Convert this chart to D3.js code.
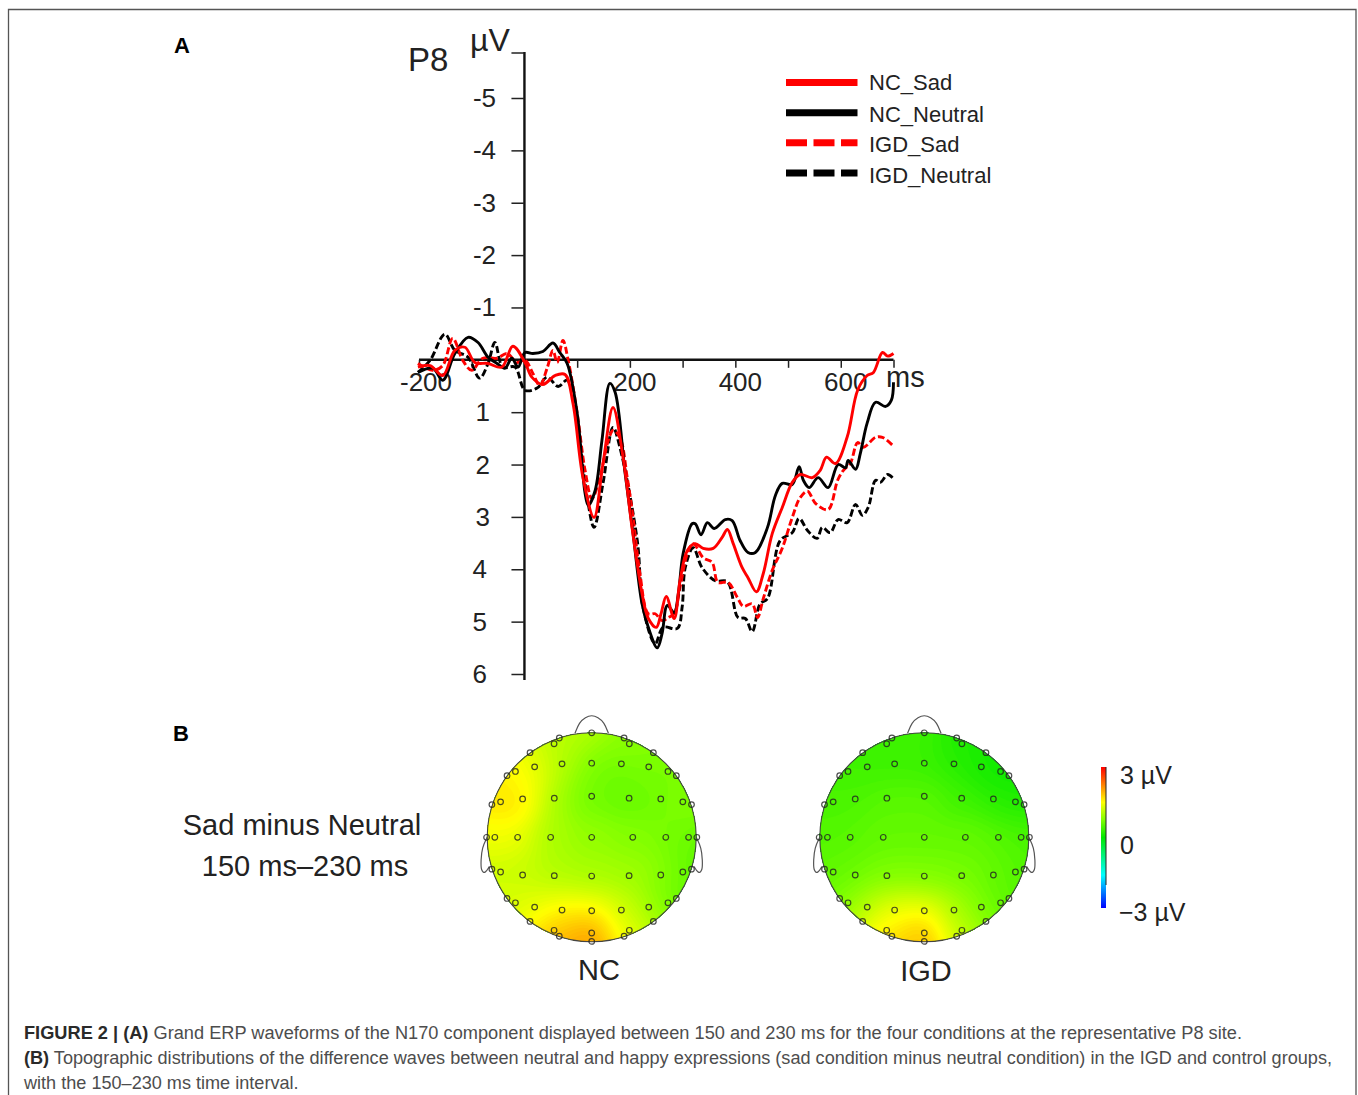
<!DOCTYPE html>
<html>
<head>
<meta charset="utf-8">
<script src="https://cdn.jsdelivr.net/npm/d3@7"></script>
<style>
  html, body { margin: 0; padding: 0; background: #fff; }
  svg { display: block; }
  text { font-family: "Liberation Sans", Arial, sans-serif; }
</style>
</head>
<body>
<script>
const svgW = 1358;
const svgH = 1095;

// waveforms, ms and uV (negative up)
const ncSadT = [-202,-179,-155,-132,-113,-94,-69,-43,-22,1,14,35,58,77,92,111,132,149,168,187,204,223,235,250,259,269,284,295,309,324,339,358,375,385,396,413,424,440,453,470,489,508,523,546,561,573,590,612,632,650,662,679,689,700];
const ncSadV = [0.14,0.11,0.30,-0.18,-0.24,0.05,0.07,0.14,-0.26,0.05,0.33,0.47,0.30,0.28,0.83,2.25,3.01,1.98,0.91,1.86,3.20,4.46,4.94,5.11,4.85,4.52,4.94,4.22,3.64,3.51,3.60,3.60,3.39,3.24,3.51,3.97,4.16,4.43,4.08,3.32,2.82,2.34,2.19,2.25,2.11,1.86,1.98,1.48,0.58,0.30,0.24,-0.14,-0.07,-0.12];
const ncNeutralT = [-202,-174,-155,-132,-107,-88,-69,-52,-37,-24,-12,1,16,35,54,67,81,100,115,121,134,147,162,172,191,206,223,235,252,261,271,284,292,301,318,324,335,347,360,381,394,409,424,438,461,476,489,508,521,529,540,557,576,595,609,614,628,637,650,666,685,696,700];
const ncNeutralV = [0.24,0.16,0.39,-0.12,-0.43,-0.33,-0.05,0.07,0.16,-0.03,0.14,-0.14,-0.12,-0.16,-0.32,-0.14,0.07,1.02,2.55,2.78,2.50,1.54,0.45,0.62,2.17,3.32,4.66,5.11,5.50,5.23,4.69,4.83,4.46,3.70,3.13,3.13,3.34,3.11,3.22,3.05,3.07,3.45,3.68,3.68,3.20,2.59,2.36,2.38,2.04,2.30,2.44,2.25,2.44,2.00,2.06,1.92,2.09,1.79,1.21,0.81,0.89,0.77,0.43];
const igdSadT = [-202,-174,-155,-136,-117,-100,-79,-52,-33,-14,1,16,29,43,54,62,73,83,100,115,128,143,159,168,181,195,206,219,235,248,261,273,284,295,309,320,339,356,367,386,404,415,432,442,453,470,489,508,523,537,552,576,594,605,618,632,643,666,679,700];
const igdSadV = [0.07,0.20,0.11,-0.41,0.01,0.20,-0.03,-0.03,-0.12,0.05,0.01,0.26,0.49,0.16,-0.18,0.05,-0.37,0.01,1.02,2.11,2.65,2.25,1.54,1.35,1.48,2.25,3.01,4.08,4.85,4.85,4.98,4.92,4.85,4.35,3.70,3.51,3.78,3.87,4.25,4.25,4.54,4.71,4.66,4.92,4.56,4.02,3.60,3.01,2.63,2.51,2.74,2.86,2.30,2.11,1.98,1.58,1.67,1.48,1.48,1.65];
const igdNeutralT = [-202,-179,-151,-132,-107,-85,-69,-56,-41,-18,1,24,43,64,81,100,119,132,149,168,181,214,225,248,263,290,299,305,320,337,362,385,405,419,432,447,461,485,508,521,537,555,565,580,595,612,628,641,652,666,675,689,700];
const igdNeutralV = [0.24,0.01,-0.49,-0.18,-0.05,0.35,0.07,-0.33,0.14,0.14,0.58,0.54,0.33,0.51,0.39,1.21,2.63,3.20,2.36,1.29,1.67,3.45,4.73,5.42,5.11,5.13,4.73,3.97,3.59,3.97,4.22,4.24,4.92,4.94,5.19,4.66,4.56,3.45,3.30,3.03,3.26,3.41,3.20,3.30,3.05,3.11,2.76,2.97,2.82,2.30,2.34,2.19,2.27];

const seriesNames = ['NC_Sad', 'NC_Neutral', 'IGD_Sad', 'IGD_Neutral'];
const xTicks = [-200, -100, 0, 100, 200, 300, 400, 500, 600, 700];
const xLabels = [-200, 200, 400, 600];
const yTicks = [-5, -4, -3, -2, -1, 1, 2, 3, 4, 5, 6];

// electrodes in head units (1 = rim), same order for both maps
const elecX = [0,-.31,.31,-.36,.36,-.59,.59,-.81,.81,-.73,.73,-.546,.546,-.284,.284,0,-.955,.955,-.872,.872,-.661,.661,-.358,.358,0,-1.006,1.006,-.927,.927,-.709,.709,-.393,.393,0,-.955,.955,-.872,.872,-.661,.661,-.358,.358,0,-.81,.81,-.73,.73,-.546,.546,-.284,.284,0,-.59,.59,-.36,.36,-.31,.31,0,0];
const elecY = [-1,-.95,-.95,-.895,-.895,-.81,-.81,-.59,-.59,-.63,-.63,-.674,-.674,-.703,-.703,-.709,-.313,-.313,-.339,-.339,-.367,-.367,-.374,-.374,-.393,0,0,0,0,0,0,0,0,0,.305,.305,.332,.332,.361,.361,.367,.367,.371,.585,.585,.627,.627,.668,.668,.696,.696,.703,.805,.805,.89,.89,.947,.947,.916,.996];
const ncValues = [1.1,1.1,.85,1.1,.85,1.35,.8,1.55,.75,1.6,.7,1.4,.7,1.0,.62,.72,1.6,.8,1.8,.78,1.6,.65,.95,.62,.68,1.3,.55,1.6,.7,1.35,.75,1.0,.8,.88,1.2,.4,1.25,.8,1.15,.9,1.05,.95,1.0,1.25,.45,1.3,.75,1.3,1.05,1.4,1.2,1.4,1.6,1.0,1.9,1.3,2.05,1.55,2.2,2.15];
const igdValues = [.4,.35,.2,.35,.2,.35,.1,.4,.05,.4,.12,.4,.2,.4,.3,.35,.45,.15,.45,.25,.5,.35,.55,.4,.55,.5,.4,.5,.5,.55,.55,.6,.6,.6,.55,.45,.6,.55,.65,.65,.75,.7,.75,.65,.45,.8,.6,1.1,.8,1.25,1.0,1.3,1.35,.75,1.7,1.05,1.8,1.35,2.0,1.95];

const colorStops = [-3, -1.6, 0, 0.75, 1.5, 3];
const colorVals = ['#0000ff', '#00ffff', '#00e800', '#80ff00', '#ffff00', '#ff0000'];

const captionLines = [
  [['FIGURE 2 | (A)', true], [' Grand ERP waveforms of the N170 component displayed between 150 and 230 ms for the four conditions at the representative P8 site.', false]],
  [['(B)', true], [' Topographic distributions of the difference waves between neutral and happy expressions (sad condition minus neutral condition) in the IGD and control groups,', false]],
  [['with the 150–230 ms time interval.', false]]
];
const captionSizes = [18.22, 18.11, 18.1];

const svg = d3.select('body')
              .append('svg')
              .attr('width', svgW)
              .attr('height', svgH);

// frame, open at the bottom
svg.append('path')
    .attr('d', `M8.5,${svgH} V9.5 H1356 V${svgH}`)
    .attr('fill', 'none')
    .attr('stroke', '#555')
    .attr('stroke-width', 1.3);

svg.append('text').attr('x', 174).attr('y', 53).attr('font-size', 22).attr('font-weight', 'bold').text('A');
svg.append('text').attr('x', 173).attr('y', 741).attr('font-size', 22).attr('font-weight', 'bold').text('B');

// ---- ERP plot ----
const xScale = d3.scaleLinear().domain([-200, 700]).range([419, 893.5]);
const yScale = d3.scaleLinear().domain([-5, 6]).range([98, 674]);

const xAxis = d3.axisBottom(xScale).tickValues(xTicks).tickSize(8).tickFormat('');
const gx = svg.append('g').attr('transform', `translate(0, ${yScale(0)})`).call(xAxis);
gx.select('.domain').attr('d', `M419,0 H893.5`).attr('stroke-width', 2.4).attr('stroke', '#111');
gx.selectAll('.tick line').attr('stroke', '#222').attr('stroke-width', 1.5);

const yAxis = d3.axisLeft(yScale).tickValues(yTicks).tickSize(13).tickFormat('');
const gy = svg.append('g').attr('transform', `translate(${xScale(0)}, 0)`).call(yAxis);
gy.select('.domain').attr('d', 'M0,52 V680').attr('stroke-width', 2.4).attr('stroke', '#111');
gy.selectAll('.tick line').attr('stroke', '#222').attr('stroke-width', 1.5);
// top tick of the y axis
gy.append('line').attr('x1', -13).attr('x2', 0).attr('y1', 53).attr('y2', 53).attr('stroke', '#222').attr('stroke-width', 1.5);

svg.append('g').selectAll('text')
    .data(yTicks)
    .enter()
    .append('text')
    .attr('x', d => d < 0 ? 496 : (d > 3 ? 487 : 490))
    .attr('y', d => yScale(d) + 9)
    .attr('text-anchor', 'end')
    .attr('font-size', 26)
    .attr('fill', '#222')
    .text(d => d);

svg.append('g').selectAll('text')
    .data(xLabels)
    .enter()
    .append('text')
    .attr('x', d => xScale(d) + (d < 0 ? 7 : 5))
    .attr('y', 391)
    .attr('text-anchor', 'middle')
    .attr('font-size', 26)
    .attr('fill', '#222')
    .text(d => d);

svg.append('text').attr('x', 886).attr('y', 387).attr('font-size', 29).attr('fill', '#222').text('ms');
svg.append('text').attr('x', 470).attr('y', 51).attr('font-size', 32).attr('fill', '#222').text('µV');
svg.append('text').attr('x', 408).attr('y', 71).attr('font-size', 33).attr('fill', '#222').text('P8');

const line = d3.line()
               .x(d => xScale(d[0]))
               .y(d => yScale(d[1]))
               .curve(d3.curveCatmullRom.alpha(0.5));

const traces = [
  { t: igdNeutralT, v: igdNeutralV, color: '#000', dash: '7 3' },
  { t: igdSadT, v: igdSadV, color: '#f00', dash: '7 3' },
  { t: ncNeutralT, v: ncNeutralV, color: '#000', dash: null },
  { t: ncSadT, v: ncSadV, color: '#f00', dash: null }
];

svg.append('g').selectAll('path')
    .data(traces)
    .enter()
    .append('path')
    .attr('d', d => line(d3.zip(d.t, d.v)))
    .attr('fill', 'none')
    .attr('stroke', d => d.color)
    .attr('stroke-width', 2.9)
    .attr('stroke-dasharray', d => d.dash);

// legend
const legendY = d3.scalePoint().domain(seriesNames).range([82.5, 173]);
const legendTextDy = [7.5, 9.5, 9, 10];
const legendG = svg.append('g').selectAll('g')
    .data(seriesNames)
    .enter()
    .append('g')
    .attr('transform', d => `translate(0, ${legendY(d)})`);

legendG.append('line')
    .attr('x1', 786)
    .attr('x2', 857.5)
    .attr('stroke', d => d.endsWith('Sad') ? '#f00' : '#000')
    .attr('stroke-width', 7)
    .attr('stroke-dasharray', d => d.startsWith('IGD') ? '21 6.5' : null);

legendG.append('text')
    .attr('x', 869)
    .attr('y', (d, i) => legendTextDy[i])
    .attr('font-size', 22)
    .attr('fill', '#222')
    .text(d => d);

// ---- topographic maps ----
const colorScale = d3.scaleLinear().domain(colorStops).range(colorVals);
const gridN = 130;
const sigma = 0.17;

function drawHead(cx, cy, radius, values, name) {
  // kernel smoothing of the electrode values on a grid over the head
  const grid = new Float64Array(gridN * gridN);
  for (let j = 0; j < gridN; j++) {
    for (let i = 0; i < gridN; i++) {
      const px = (i + 0.5) / gridN * 2.2 - 1.1;
      const py = (j + 0.5) / gridN * 2.2 - 1.1;
      let sw = 0;
      let sv = 0;
      values.forEach((v, k) => {
        const dx = px - elecX[k];
        const dy = py - elecY[k];
        const w = Math.exp(-(dx * dx + dy * dy) / (2 * sigma * sigma));
        sw += w;
        sv += w * v;
      });
      grid[j * gridN + i] = sv / sw;
    }
  }

  const g = svg.append('g').attr('transform', `translate(${cx}, ${cy})`);
  const clipId = 'clip-' + name;
  g.append('clipPath').attr('id', clipId).append('circle').attr('r', radius);

  const thresholds = d3.range(-1, 3.01, 0.04);
  const contours = d3.contours().size([gridN, gridN]).thresholds(thresholds)(grid);
  const geo = d3.geoPath(d3.geoTransform({
    point: function(x, y) {
      this.stream.point((x / gridN * 2.2 - 1.1) * radius, (y / gridN * 2.2 - 1.1) * radius);
    }
  }));

  const fills = g.append('g').attr('clip-path', `url(#${clipId})`);
  fills.append('circle').attr('r', radius).attr('fill', colorScale(d3.min(grid)));
  fills.selectAll('path')
    .data(contours)
    .enter()
    .append('path')
    .attr('d', geo)
    .attr('fill', d => colorScale(d.value));

  const headLine = d3.line().curve(d3.curveBasis);
  const outline = [
    [[-.16, -.995], [-.12, -1.1], [-.06, -1.15], [0, -1.17], [.06, -1.15], [.12, -1.1], [.16, -.995]],
    [[-1.0, .0], [-1.05, .1], [-1.06, .22], [-1.06, .32], [-1.02, .35], [-.98, .28]],
    [[1.0, .0], [1.05, .1], [1.06, .22], [1.06, .32], [1.02, .35], [.98, .28]]
  ];
  g.selectAll('.outline')
    .data(outline)
    .enter()
    .append('path')
    .attr('class', 'outline')
    .attr('d', d => headLine(d.map(p => [p[0] * radius, p[1] * radius])))
    .attr('fill', 'none')
    .attr('stroke', '#555')
    .attr('stroke-width', 1.2);

  g.append('circle').attr('r', radius).attr('fill', 'none').attr('stroke', '#444').attr('stroke-width', 1.1);

  g.selectAll('.elec')
    .data(values)
    .enter()
    .append('circle')
    .attr('class', 'elec')
    .attr('cx', (d, k) => elecX[k] * radius)
    .attr('cy', (d, k) => elecY[k] * radius)
    .attr('r', 2.8)
    .attr('fill', 'none')
    .attr('stroke', '#222')
    .attr('stroke-opacity', 0.8)
    .attr('stroke-width', 1.2);
}

drawHead(591.7, 837.3, 104.5, ncValues, 'nc');
drawHead(924.3, 837.3, 104.5, igdValues, 'igd');

svg.append('text').attr('x', 599).attr('y', 980).attr('text-anchor', 'middle').attr('font-size', 29).attr('fill', '#222').text('NC');
svg.append('text').attr('x', 926).attr('y', 981).attr('text-anchor', 'middle').attr('font-size', 29).attr('fill', '#222').text('IGD');
svg.append('text').attr('x', 302).attr('y', 835).attr('text-anchor', 'middle').attr('font-size', 29).attr('fill', '#222').text('Sad minus Neutral');
svg.append('text').attr('x', 305).attr('y', 876).attr('text-anchor', 'middle').attr('font-size', 29).attr('fill', '#222').text('150 ms–230 ms');

// colour bar
const defs = svg.append('defs');
const grad = defs.append('linearGradient').attr('id', 'bar').attr('x1', 0).attr('x2', 0).attr('y1', 1).attr('y2', 0);
const barScale = d3.scaleLinear().domain([-3, 3]).range([0, 1]);
grad.selectAll('stop')
    .data(colorStops)
    .enter()
    .append('stop')
    .attr('offset', d => barScale(d))
    .attr('stop-color', d => colorScale(d));
svg.append('rect').attr('x', 1101).attr('y', 767).attr('width', 5).attr('height', 141).attr('fill', 'url(#bar)');
svg.append('line').attr('x1', 1106).attr('x2', 1106).attr('y1', 767).attr('y2', 885).attr('stroke', '#222').attr('stroke-width', 1);
svg.append('text').attr('x', 1120).attr('y', 784).attr('font-size', 25).attr('fill', '#222').text('3 µV');
svg.append('text').attr('x', 1120).attr('y', 854).attr('font-size', 25).attr('fill', '#222').text('0');
svg.append('text').attr('x', 1119).attr('y', 921).attr('font-size', 25).attr('fill', '#222').text('−3 µV');

// caption
const capY = d3.scalePoint().domain([0, 1, 2]).range([1039, 1089]);
const cap = svg.append('g').selectAll('text')
    .data(captionLines)
    .enter()
    .append('text')
    .attr('x', 24)
    .attr('y', (d, i) => capY(i))
    .attr('font-size', (d, i) => captionSizes[i])
    .attr('fill', '#4d4d4d');
cap.selectAll('tspan')
    .data(d => d)
    .enter()
    .append('tspan')
    .attr('font-weight', d => d[1] ? 'bold' : null)
    .attr('fill', d => d[1] ? '#2a2a2a' : '#4d4d4d')
    .text(d => d[0]);
</script>
</body>
</html>
